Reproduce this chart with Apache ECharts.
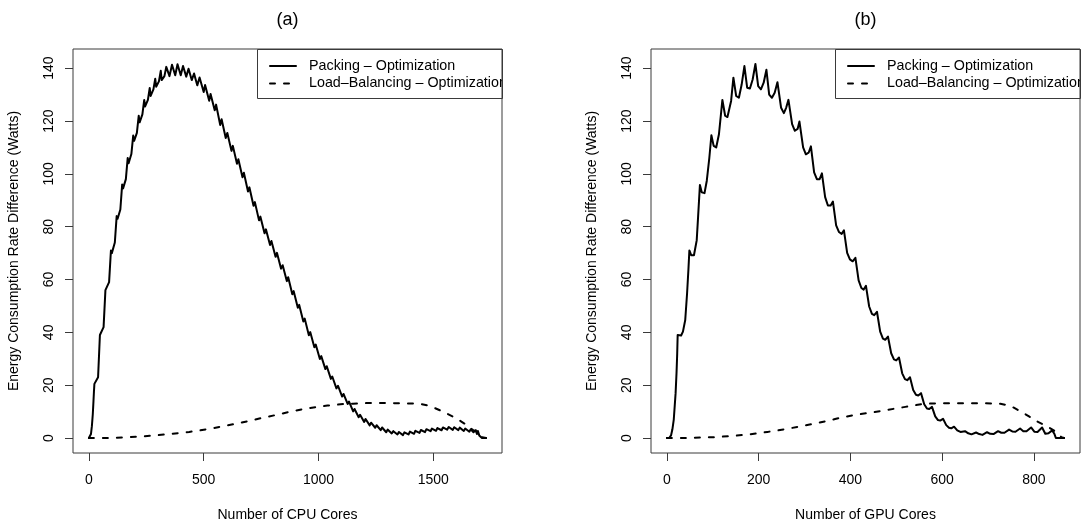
<!DOCTYPE html>
<html>
<head>
<meta charset="utf-8">
<script src="https://cdn.jsdelivr.net/npm/echarts@6/dist/echarts.min.js"></script>
<style>
html,body{margin:0;padding:0;background:#fff;}
#chart{width:1084px;height:521px;}
</style>
</head>
<body>
<div id="chart"></div>
<script>
// ---------- DATA ----------
const panelTitles = ['(a)', '(b)'];
const xAxisNames = ['Number of CPU Cores', 'Number of GPU Cores'];
const yAxisName = 'Energy Consumption Rate Difference (Watts)';
const seriesNames = ['Packing \u2013 Optimization', 'Load\u2013Balancing \u2013 Optimization'];

const cpuTicks = [0, 500, 1000, 1500];
const gpuTicks = [0, 200, 400, 600, 800];
const yTicks = [0, 20, 40, 60, 80, 100, 120, 140];

// Panel (a): CPU — Packing minus Optimization
const cpuPackX = [0,5,9,13,17,20,22,24,28,40,48,52,64,72,76,88,96,100,113,121,125,137,145,149,161,169,173,185,193,197,209,217,221,233,241,245,257,265,269,281,289,293,305,313,317,329,337,351,362,376,386,400,410,424,434,448,458,472,
482,500,506,524,530,548,554,572,578,596,603,621,627,645,651,669,675,693,699,717,723,741,747,765,771,789,795,813,819,837,844,862,868,886,892,910,916,934,940,958,964,982,988,1006,1012,1030,1036,1054,1060,1078,1085,1103,1109,1127,1133,1151,1157,1175,1181,1199,1205,1223,1229,1247,1253,1271,1277,1295,1301,1319,1326,1344,1350,1368,1374,1392,1398,1416,1422,1440,1446,1464,1470,1488,1494,1512,1518,1536,1542,1560,1567,1585,1591,1609,1615,1633,1639,1657,1663,1675,1685,1690,1694,1700,1706,1712,1730];
const cpuPackY = [0,0,1.5,4.5,9,14,17.5,20.5,20,23,39,38.8,42,56,55.5,59,71,70,74,84,83,86.5,96,94.5,98,106,104,107.5,114.5,112.5,115.5,122,119.5,122.5,128,125.5,128,132.5,129.5,132,136,133,135,139,135.5,137,140.5,137,141.3,137.3,141.5,137.3,140.8,136.8,139.8,135.5,138,133.5,
136.5,131,133.6,127.7,130.2,124.1,126.2,118.5,120.7,113.6,115.5,108.7,110.6,103.8,105.5,98.7,100.4,93.3,94.9,87.9,89.3,82.4,83.8,77.5,79,73.1,74.6,68.6,70.1,64.1,65.4,59.4,60.9,54.4,55.6,49.3,50.4,44.1,45.2,38.9,40.1,34.4,35.4,29.9,31,26.1,27.2,22.4,23.3,18.8,19.8,15.7,16.7,12.9,13.8,10.1,11,7.9,8.8,6.1,7.2,4.8,5.8,3.9,4.85,3.0,4.0,2.2,3.2,1.75,2.6,1.35,2.3,1.1,2.15,1.35,2.45,1.6,2.75,1.95,3.05,2.25,3.35,2.6,3.6,2.75,3.8,2.95,4.0,3.15,4.2,3.1,4.1,3.0,3.95,2.7,3.6,2.4,3.3,2.2,3.0,1.5,2.7,1.0,0.3,0,0];

// Panel (a): CPU — Load-Balancing minus Optimization
const cpuLbX = [0,100,212,287,362,437,512,588,663,738,813,888,963,1039,1114,1150,1189,1264,1339,1440,1484,1542,1600,1644,1672,1701,1712,1730];
const cpuLbY = [0,0.05,0.5,1,1.6,2.3,3.3,4.5,5.8,7.3,8.7,10.2,11.4,12.3,12.9,13,13.2,13.3,13.2,13,12.2,10,7.5,5,3.1,1.9,0.3,0];

// Panel (b): GPU — Packing minus Optimization
const gpuPackX = [0,5,9,12,15,17,19,21,22.5,23.5,27,31,35,40,44,47,49,53,59,65,68,72,76,82,87,92.5,97,102,107.5,113.5,121,127,132,140,145,151,157,163,169,175,181,187,193,199,205,211,217,223,229,235,241,249,255,260,265,273,279,285,289,297,303,309,314,321,327,333,338,345,351,357,362,369,375,381,386,393,399,405,411,418,424,429,434,441,447,452,458,465,471,476,482,489,495,500,506,513,519,524,530,537,543,548,554,561,567,572,578,585,591,596,602,609,615,620,626,633,640,650,657,664,674,681,688,698,705,712,722,729,736,746,753,760,770,777,784,794,801,808,818,825,832,840,845,848,866];
const gpuPackY = [0,0,1,3.3,7,12,17,24.6,32,39,38.4,38.8,40.3,44.7,54.7,64,71,69.2,69.2,74.8,83.6,95.8,93,92.7,97.4,106,114.6,110.6,110,115,128,122,121.5,127.6,136.4,129.5,128.8,133.8,140.8,132.6,132.3,135.7,141.6,133.2,132,134.5,139.4,130,128.8,130.7,134.7,125,123,125,128,118.8,116.3,117,119.8,110,107.4,108,110.4,100.6,98,98,100.2,91.2,88,88,89.5,80.5,78,77.3,78.6,70.1,67.6,66.9,68.2,59.7,56.8,56.2,57.6,49.8,47,46.5,47.8,40.3,37.6,37.2,38.4,32.1,29.8,29.4,30.5,24.5,22.3,21.9,23,18.2,16.4,16.1,17,12.8,11.2,11,11.8,8.2,6.8,6.6,7.3,4.9,3.9,3.7,4.3,2.9,2.3,2.6,1.8,1.4,2.1,1.5,1.2,2.2,1.6,1.5,2.6,2,2,3.2,2.5,2.4,3.6,2.6,2.6,4,2.4,2.3,4,1.6,1.8,2.9,1.5,0,0];

// Panel (b): GPU — Load-Balancing minus Optimization
const gpuLbX = [0,50,106,150,181,219,256,294,332,369,407,444,482,520,557,595,632,670,707,727,749,778,807,829,847,854,860,866];
const gpuLbY = [0,0.05,0.35,0.9,1.4,2.3,3.3,4.5,5.8,7.3,8.7,9.6,10.7,11.8,12.9,13.2,13.2,13.2,13.1,13,12.2,9.4,6.3,4.4,2.5,1.5,0.3,0];

// ---------- LAYOUT / STYLE ----------
const FONT = '"Liberation Sans", Arial, Helvetica, sans-serif';
const grids = [
  {left: 73, top: 49, width: 429, height: 404},
  {left: 651, top: 49, width: 429, height: 404}
];
const xRanges = [[-69.2, 1799.2], [-34.64, 900.64]];
const yRange = [-5.66, 147.26];
const xTickSets = [cpuTicks, gpuTicks];
const frameColor = '#3a3a3a';
const dashPattern = [5, 9];

function zip(xs, ys) { return xs.map((x, i) => [x, ys[i]]); }
const plain = v => String(v);

const chart = echarts.init(document.getElementById('chart'), null, {renderer: 'canvas'});

const xAxes = grids.map((g, i) => ({
  type: 'value', gridIndex: i, min: xRanges[i][0], max: xRanges[i][1], position: 'bottom',
  name: xAxisNames[i], nameLocation: 'middle', nameGap: 55,
  nameTextStyle: {fontFamily: FONT, fontSize: 14, color: '#000'},
  axisLine: {show: false, onZero: false},
  axisTick: {show: true, inside: false, length: 8, customValues: xTickSets[i], lineStyle: {color: frameColor, width: 1}},
  axisLabel: {show: true, margin: 20, customValues: xTickSets[i], formatter: plain, fontFamily: FONT, fontSize: 14, color: '#000'},
  splitLine: {show: false}
}));
const yAxes = grids.map((g, i) => ({
  type: 'value', gridIndex: i, min: yRange[0], max: yRange[1], position: 'left',
  name: yAxisName, nameLocation: 'middle', nameGap: 52,
  nameTextStyle: {fontFamily: FONT, fontSize: 14, color: '#000'},
  axisLine: {show: false, onZero: false},
  axisTick: {show: true, inside: false, length: 8, customValues: yTicks, lineStyle: {color: frameColor, width: 1}},
  axisLabel: {show: true, rotate: 90, margin: 17, customValues: yTicks, formatter: plain, fontFamily: FONT, fontSize: 14, color: '#000'},
  splitLine: {show: false}
}));

function lineSeries(name, data, idx, dashed) {
  return {
    name: name, type: 'line', xAxisIndex: idx, yAxisIndex: idx, data: data,
    showSymbol: false, symbol: 'none', smooth: false, animation: false, silent: true,
    lineStyle: {color: '#000', width: 2, type: dashed ? dashPattern : 'solid', cap: 'round', join: 'round'}
  };
}

const series = [
  lineSeries(seriesNames[0], zip(cpuPackX, cpuPackY), 0, false),
  lineSeries(seriesNames[1], zip(cpuLbX, cpuLbY), 0, true),
  lineSeries(seriesNames[0], zip(gpuPackX, gpuPackY), 1, false),
  lineSeries(seriesNames[1], zip(gpuLbX, gpuLbY), 1, true)
];

// Legends & titles (graphic)
const graphics = [];
grids.forEach((g, i) => {
  const right = g.left + g.width;
  const lx = right - 245, ly = g.top, lw = 245, lh = 49;
  const rows = [ly + 17, ly + 34.5];
  graphics.push({type: 'text', z: 10, x: g.left + g.width / 2, y: 20,
    style: {text: panelTitles[i], fontFamily: FONT, fontSize: 18, fill: '#000', align: 'center', verticalAlign: 'middle'}});
  rows.forEach((ry, r) => {
    graphics.push({type: 'line', z: 10, shape: {x1: lx + 13, y1: ry, x2: lx + 39, y2: ry},
      style: {stroke: '#000', lineWidth: 2, lineDash: r === 1 ? dashPattern : null, lineCap: 'round'}});
    graphics.push({type: 'text', z: 10, x: lx + 52, y: ry,
      style: {text: seriesNames[r], fontFamily: FONT, fontSize: 14.3, fill: '#000', align: 'left', verticalAlign: 'middle'}});
  });
  // clip text overflowing the legend/plot frame (as in the original)
  graphics.push({type: 'rect', z: 11, shape: {x: right + 0.5, y: ly + 1, width: 40, height: lh - 2}, style: {fill: '#fff'}});
  graphics.push({type: 'rect', z: 12, shape: {x: lx + 0.5, y: ly + 0.5, width: lw, height: lh},
    style: {fill: 'none', stroke: frameColor, lineWidth: 1}});
});

chart.setOption({
  animation: false,
  backgroundColor: '#fff',
  grid: grids.map(g => Object.assign({show: true, borderColor: frameColor, borderWidth: 1, backgroundColor: 'transparent', containLabel: false, outerBoundsMode: 'none'}, g)),
  xAxis: xAxes,
  yAxis: yAxes,
  series: series,
  graphic: graphics
});
</script>
</body>
</html>
